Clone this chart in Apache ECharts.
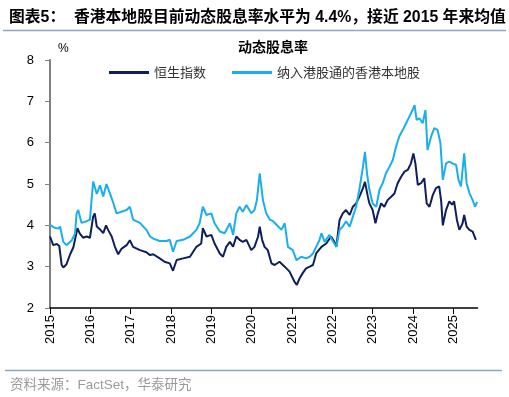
<!DOCTYPE html>
<html>
<head>
<meta charset="utf-8">
<script src="https://cdn.jsdelivr.net/npm/echarts@6/dist/echarts.min.js"></script>
<style>html,body{margin:0;padding:0;background:#fff;}#c{width:509px;height:397px;}</style>
</head>
<body>
<div id="c"></div>
<script>
// 恒生指数 dynamic dividend yield (%)
const hsiYears = [2015.00,2015.08,2015.17,2015.23,2015.29,2015.33,2015.41,2015.50,2015.58,2015.62,2015.68,2015.74,2015.82,2015.91,2015.99,
2016.07,2016.11,2016.16,2016.24,2016.32,2016.39,2016.44,2016.53,2016.61,2016.69,2016.77,2016.90,2016.98,
2017.06,2017.23,2017.39,2017.48,2017.56,2017.72,2017.84,2017.97,
2018.05,2018.14,2018.30,2018.47,2018.63,2018.75,2018.79,2018.88,
2019.00,2019.08,2019.21,2019.29,2019.37,2019.46,2019.54,2019.62,2019.70,2019.78,2019.87,2019.99,
2020.07,2020.16,2020.20,2020.26,2020.32,2020.40,2020.49,2020.57,2020.69,2020.82,2020.94,
2021.06,2021.12,2021.19,2021.27,2021.35,2021.44,2021.52,2021.60,2021.73,2021.85,2021.97,
2022.05,2022.10,2022.14,2022.18,2022.26,2022.34,2022.43,2022.51,2022.59,2022.67,2022.76,2022.81,2022.88,2022.92,
2023.00,2023.07,2023.13,2023.21,2023.29,2023.37,2023.46,2023.54,2023.62,2023.71,2023.79,2023.87,2023.95,
2024.01,2024.06,2024.12,2024.20,2024.28,2024.34,2024.41,2024.49,2024.57,2024.65,2024.70,2024.74,2024.82,2024.90,2024.97,
2025.02,2025.09,2025.15,2025.23,2025.27,2025.33,2025.40,2025.48,2025.56];
const hsiValues = [3.73,3.52,3.55,3.50,3.04,2.98,3.06,3.30,3.47,3.50,3.93,3.80,3.70,3.73,3.70,
4.21,4.29,3.97,3.90,3.81,4.00,3.89,3.73,3.48,3.30,3.43,3.52,3.64,
3.48,3.40,3.35,3.28,3.30,3.20,3.12,3.08,
2.90,3.16,3.20,3.24,3.48,3.56,3.93,3.73,
3.77,3.56,3.32,3.24,3.48,3.60,3.48,3.73,3.65,3.60,3.65,3.40,
3.48,3.73,3.97,3.65,3.48,3.40,3.08,3.04,3.12,3.00,2.88,
2.64,2.56,2.72,2.85,2.96,3.00,3.04,3.32,3.48,3.56,3.73,
3.60,3.48,3.81,4.13,4.29,4.37,4.25,4.45,4.53,4.69,4.90,5.05,4.70,4.53,
4.37,4.05,4.29,4.53,4.45,4.61,4.69,4.77,5.02,5.18,5.30,5.34,5.50,
5.74,5.50,4.98,5.02,5.14,4.53,4.45,4.73,4.90,4.94,4.58,4.00,4.37,4.58,4.50,
4.58,4.13,3.89,4.05,4.25,3.97,3.89,3.85,3.65];

// 纳入港股通的香港本地股 dynamic dividend yield (%)
const localYears = [2015.00,2015.12,2015.21,2015.25,2015.33,2015.41,2015.54,2015.62,2015.66,2015.70,2015.78,2015.91,2015.99,
2016.07,2016.11,2016.16,2016.24,2016.32,2016.40,2016.49,2016.57,2016.65,2016.77,2016.90,2016.98,
2017.06,2017.23,2017.39,2017.48,2017.56,2017.72,2017.89,2017.97,
2018.05,2018.14,2018.30,2018.47,2018.55,2018.63,2018.71,2018.79,2018.88,
2019.00,2019.08,2019.21,2019.33,2019.46,2019.54,2019.62,2019.70,2019.78,2019.87,2019.99,
2020.07,2020.13,2020.20,2020.24,2020.28,2020.36,2020.45,2020.53,2020.61,2020.74,2020.82,2020.90,
2021.02,2021.11,2021.23,2021.35,2021.44,2021.52,2021.60,2021.68,2021.73,2021.81,2021.93,
2022.01,2022.10,2022.18,2022.26,2022.34,2022.43,2022.51,2022.59,2022.67,2022.76,2022.81,2022.86,2022.92,
2023.00,2023.09,2023.17,2023.25,2023.33,2023.42,2023.50,2023.58,2023.66,2023.75,2023.83,2023.91,2023.99,
2024.04,2024.09,2024.16,2024.24,2024.31,2024.36,2024.45,2024.53,2024.61,2024.68,2024.74,2024.82,2024.90,2024.98,
2025.07,2025.13,2025.19,2025.27,2025.33,2025.40,2025.48,2025.54,2025.59];
const localValues = [4.01,3.94,3.92,3.97,3.60,3.52,3.64,3.80,4.29,4.37,4.06,4.10,4.14,
5.06,5.10,4.76,4.97,4.70,5.00,4.76,4.54,4.29,4.33,4.37,4.45,
4.14,4.06,3.89,3.73,3.68,3.62,3.62,3.65,
3.36,3.62,3.65,3.73,3.81,3.89,4.05,4.45,4.25,
4.29,4.05,3.85,3.81,4.05,3.77,4.29,4.45,4.33,4.49,4.29,
4.37,4.61,5.26,5.26,4.61,4.29,4.14,4.10,4.02,3.89,4.05,3.48,
3.40,3.16,3.24,3.20,3.24,3.32,3.48,3.64,3.81,3.60,3.77,
3.62,3.48,3.89,3.97,4.10,3.97,4.21,4.45,4.86,5.42,5.78,5.26,4.86,
4.53,4.45,4.86,5.02,5.26,5.42,5.58,5.90,6.15,6.31,6.47,6.63,6.79,
6.91,6.55,6.59,6.47,6.79,5.82,6.15,6.35,6.31,6.00,5.10,5.50,5.54,5.50,
5.46,5.10,4.94,5.74,5.02,4.78,4.61,4.45,4.57];

const yearTicks = [2015,2016,2017,2018,2019,2020,2021,2022,2023,2024,2025];
const seriesNames = ['恒生指数','纳入港股通的香港本地股'];

const FONT = '"Liberation Sans", Arial, "Noto Sans CJK SC", sans-serif';
const chart = echarts.init(document.getElementById('c'), null, {renderer:'canvas'});
const zip = (xs, ys) => xs.map((x, i) => [x, ys[i]]);

chart.setOption({
  animation: false,
  backgroundColor: '#fff',
  title: [
    {text: '图表5：  香港本地股目前动态股息率水平为 4.4%，接近 2015 年来均值', left: 4, top: 5,
     textStyle: {fontSize: 15.8, fontWeight: 'bold', color: '#000', fontFamily: FONT}},
    {text: '动态股息率', left: 233, top: 36,
     textStyle: {fontSize: 14, fontWeight: 'bold', color: '#000', fontFamily: FONT}},
    {text: '%', left: 53, top: 38,
     textStyle: {fontSize: 12, fontWeight: 'normal', color: '#000', fontFamily: FONT}},
    {text: '资料来源：FactSet，华泰研究', left: 5, top: 374,
     textStyle: {fontSize: 13.5, fontWeight: 'normal', color: '#9a9a9a', fontFamily: FONT}}
  ],
  graphic: [
    {type: 'line', shape: {x1: 3, y1: 30.5, x2: 506, y2: 30.5}, style: {stroke: '#8ca6c4', lineWidth: 1.5}},
    {type: 'line', shape: {x1: 5, y1: 370.5, x2: 502, y2: 370.5}, style: {stroke: '#8ca6c4', lineWidth: 1.5}}
  ],
  legend: {
    data: seriesNames, left: 104, top: 61, icon: 'rect', itemWidth: 40, itemHeight: 3, itemGap: 26,
    textStyle: {fontSize: 13, color: '#333', fontFamily: '"Noto Sans CJK SC", sans-serif'}
  },
  grid: {left: 50, right: 31.5, top: 60, bottom: 89},
  xAxis: {
    type: 'value', min: 2015, max: 2025.6, interval: 1,
    axisLine: {lineStyle: {color: '#000', width: 1.5}},
    axisTick: {show: true, length: 6, lineStyle: {color: '#000'}, customValues: yearTicks},
    axisLabel: {rotate: 90, fontSize: 13, color: '#000', margin: 7, fontFamily: FONT, customValues: yearTicks,
      formatter: v => String(v)},
    splitLine: {show: false}
  },
  yAxis: {
    type: 'value', min: 2, max: 8, interval: 1,
    axisLine: {show: true, lineStyle: {color: '#808080', width: 2}},
    axisTick: {show: true, length: 5, lineStyle: {color: '#808080'}},
    axisLabel: {fontSize: 13, color: '#000', margin: 16, fontFamily: FONT},
    splitLine: {show: false}
  },
  series: [
    {name: seriesNames[0], type: 'line', data: zip(hsiYears, hsiValues), showSymbol: false, symbol: 'none',
     lineStyle: {color: '#0e1f5b', width: 2}, itemStyle: {color: '#0e1f5b'}},
    {name: seriesNames[1], type: 'line', data: zip(localYears, localValues), showSymbol: false, symbol: 'none',
     lineStyle: {color: '#1aaeee', width: 2}, itemStyle: {color: '#1aaeee'}}
  ]
});
</script>
</body>
</html>
